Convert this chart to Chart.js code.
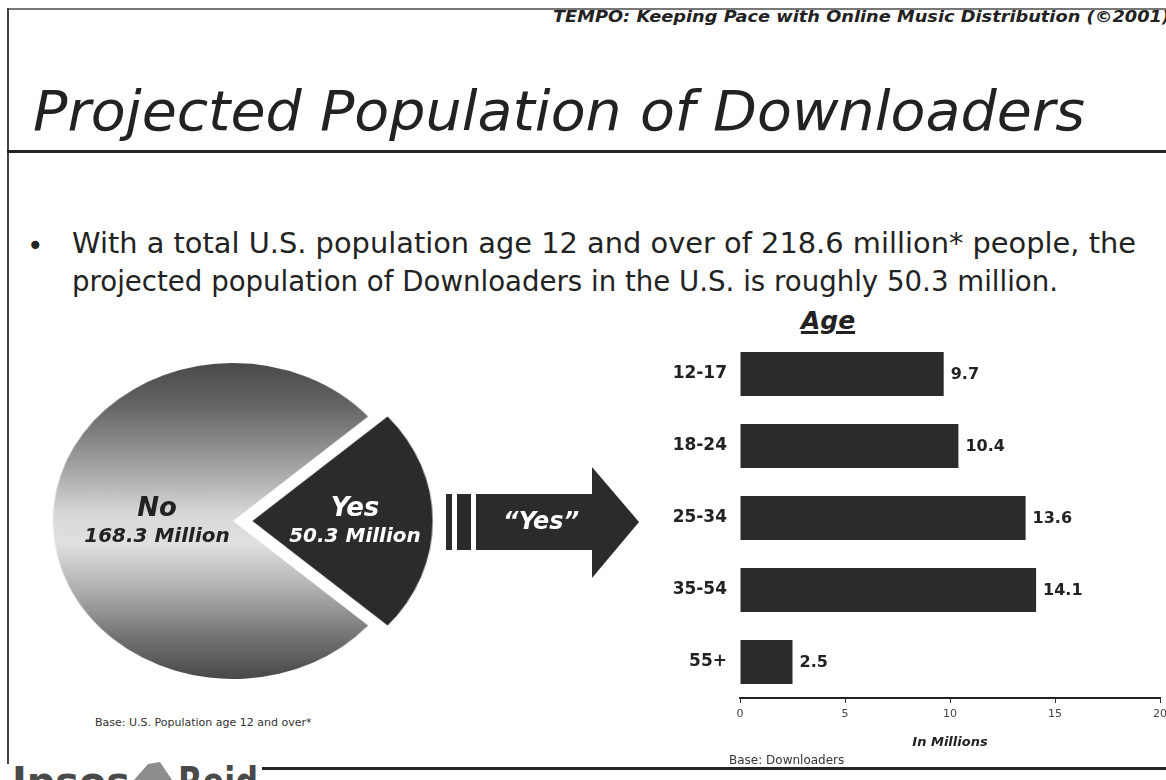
<!DOCTYPE html>
<html>
<head>
<meta charset="utf-8">
<title>Projected Population of Downloaders</title>
<script src="https://cdn.jsdelivr.net/npm/chart.js@4.4.1/dist/chart.umd.min.js"></script>
<style>
  body {
    margin: 0;
    width: 1166px;
    height: 780px;
    overflow: hidden;
    position: relative;
    background: #fff;
    color: #222;
    font-family: "DejaVu Sans", Verdana, sans-serif;
  }
  .abs { position: absolute; white-space: nowrap; line-height: 1; transform-origin: left top; }
  canvas { position: absolute; }
  #hdr { left: 553px; top: 10px; font-size: 15px; font-weight: bold; font-style: italic; }
  #title { left: 33px; top: 84px; font-size: 55px; font-style: italic; }
  #bullet { left: 27px; top: 232px; font-size: 28px; }
  .line { left: 72px; font-size: 28px; }
  #line1 { top: 230px; }
  #line2 { top: 268px; }
  .pieLbl { font-weight: bold; font-style: italic; text-align: center; transform: translateX(-50%); }
  .big { font-size: 26px; }
  .small { font-size: 20px; }
  #ageTitle { left: 828px; top: 308px; font-size: 25px; font-weight: bold; font-style: italic;
              text-decoration: underline; text-decoration-thickness: 3px; transform: translateX(-50%); }
  #arrowTxt { left: 541px; top: 509px; font-size: 24px; font-weight: bold; font-style: italic; color: #fff;
              transform: translateX(-50%); }
  .base { color: #333; }
  #pieBase { left: 95px; top: 717px; font-size: 11px; }
  #barBase { left: 729px; top: 754px; font-size: 12px; }
  .logo { top: 762px; font-size: 40px; font-weight: bold; color: #4a4a4a; }
</style>
</head>
<body>

<svg class="abs" style="left:0;top:0" width="1166" height="780">
  <!-- page frame and rules -->
  <rect x="7" y="8" width="1159" height="2" fill="#777"/>
  <rect x="7" y="8" width="2" height="756" fill="#444"/>
  <rect x="7" y="150" width="1159" height="3" fill="#222"/>
  <rect x="262" y="767" width="904" height="3" fill="#222"/>
  <!-- "Yes" arrow -->
  <g fill="#2b2b2b">
    <rect x="446" y="494" width="6" height="56"/>
    <rect x="457" y="494" width="14" height="56"/>
    <polygon points="476,494 592,494 592,467 639,522 592,578 592,550 476,550"/>
  </g>
  <!-- logo leaf -->
  <polygon points="134,780 148,764 160,762 172,780" fill="#8c8c8c"/>
</svg>

<div id="hdr" class="abs">TEMPO: Keeping Pace with Online Music Distribution (©2001)</div>
<div id="title" class="abs">Projected Population of Downloaders</div>
<div id="bullet" class="abs">•</div>
<div id="line1" class="abs line">With a total U.S. population age 12 and over of 218.6 million* people, the</div>
<div id="line2" class="abs line">projected population of Downloaders in the U.S. is roughly 50.3 million.</div>

<canvas id="pieChart" width="400" height="340" style="left:33px;top:351px;transform:scaleX(1.14);transform-origin:200px 170px"></canvas>
<div id="pieLabels"></div>

<div id="arrowTxt" class="abs">“Yes”</div>

<div id="ageTitle" class="abs">Age</div>
<canvas id="ageChart" width="560" height="480" style="left:640px;top:300px"></canvas>

<div id="pieBase" class="abs base">Base: U.S. Population age 12 and over*</div>
<div id="barBase" class="abs base">Base: Downloaders</div>

<div id="logoA" class="abs logo" style="left:12px">Ipsos</div>
<div id="logoB" class="abs logo" style="left:178px">Reid</div>

<script>
// U.S. population 12+, in millions
const pieLabels = ["Yes", "No"];
const pieValues = [50.3, 168.3];

// downloaders by age group, in millions
const ageGroups = ["12-17", "18-24", "25-34", "35-54", "55+"];
const ageValues = [9.7, 10.4, 13.6, 14.1, 2.5];
const xTicks = [0, 5, 10, 15, 20];

const PIE_R = 158;
const PULL_OUT = 17;   // px the "Yes" slice is pulled away from the centre
const DARK = "#2b2b2b";

// stretch a text block to a given width
function fitWidth(id, w) {
  const el = document.getElementById(id);
  const cur = el.getBoundingClientRect().width;
  el.style.transform = "scaleX(" + (w / cur) + ")";
}
fitWidth("hdr", 617);
fitWidth("title", 1052);
fitWidth("line1", 1064);
fitWidth("line2", 986);
fitWidth("logoA", 118);
fitWidth("logoB", 80);

// "No" slice gets a banded grey shading, "Yes" is solid
function sliceColor(ctx) {
  if (ctx.dataIndex === 0) return DARK;
  const chart = ctx.chart;
  const area = chart.chartArea;
  if (!area) return "#aaa";
  const cy = (area.top + area.bottom) / 2;
  const g = chart.ctx.createLinearGradient(0, cy - PIE_R, 0, cy + PIE_R);
  g.addColorStop(0, "#4a4a4a");
  g.addColorStop(0.14, "#666");
  g.addColorStop(0.32, "#a0a0a0");
  g.addColorStop(0.48, "#d8d8d8");
  g.addColorStop(0.57, "#e0e0e0");
  g.addColorStop(0.72, "#aeaeae");
  g.addColorStop(0.87, "#727272");
  g.addColorStop(1, "#484848");
  return g;
}

const total = pieValues.reduce((a, b) => a + b, 0);
const yesSweep = pieValues[0] / total * 360;

new Chart(document.getElementById("pieChart"), {
  type: "pie",
  data: {
    labels: pieLabels,
    datasets: [{
      data: pieValues,
      backgroundColor: sliceColor,
      borderWidth: 0,
      // arc elements move by offset / 4
      offset: [PULL_OUT * 4, 0]
    }]
  },
  options: {
    responsive: false,
    animation: false,
    events: [],
    radius: PIE_R,
    rotation: 90 - yesSweep / 2,   // centre the "Yes" slice on the right
    layout: { padding: 0 },
    plugins: { legend: { display: false }, tooltip: { enabled: false } }
  }
});

// slice captions
const pieSpots = [
  { x: 355, y: 494, color: "#fff" },
  { x: 157, y: 494, color: "#222" }
];
const holder = document.getElementById("pieLabels");
pieLabels.forEach((name, i) => {
  const s = pieSpots[i];
  holder.insertAdjacentHTML("beforeend",
    `<div class="abs pieLbl big" style="left:${s.x}px;top:${s.y}px;color:${s.color}">${name}</div>` +
    `<div class="abs pieLbl small" style="left:${s.x}px;top:${s.y + 31}px;color:${s.color}">${pieValues[i]} Million</div>`);
});

// value printed just past the end of each bar
const valueLabels = {
  id: "valueLabels",
  afterDatasetsDraw(chart) {
    const ctx = chart.ctx;
    const meta = chart.getDatasetMeta(0);
    ctx.save();
    ctx.font = 'bold 16px "DejaVu Sans"';
    ctx.fillStyle = "#222";
    ctx.textBaseline = "middle";
    meta.data.forEach((bar, i) => {
      ctx.fillText(String(chart.data.datasets[0].data[i]), bar.x + 7, bar.y + 1);
    });
    ctx.restore();
  }
};

new Chart(document.getElementById("ageChart"), {
  type: "bar",
  data: {
    labels: ageGroups,
    datasets: [{
      data: ageValues,
      backgroundColor: DARK,
      borderWidth: 0,
      barPercentage: 0.61,
      categoryPercentage: 1
    }]
  },
  options: {
    indexAxis: "y",
    responsive: false,
    animation: false,
    events: [],
    layout: { padding: { top: 38, right: 40, left: 0, bottom: 0 } },
    plugins: { legend: { display: false }, tooltip: { enabled: false } },
    scales: {
      x: {
        min: xTicks[0],
        max: xTicks[xTicks.length - 1],
        ticks: { stepSize: xTicks[1] - xTicks[0], color: "#444", padding: 5,
                 font: { family: "DejaVu Sans", size: 11 } },
        grid: { drawOnChartArea: false, drawTicks: true, tickLength: 5, color: "#333" },
        border: { color: "#222", width: 2 },
        title: {
          display: true,
          text: "In Millions",
          color: "#222",
          font: { family: "DejaVu Sans", size: 13, style: "italic", weight: "bold" },
          padding: { top: 0, bottom: 30 }
        },
        afterFit(scale) { scale.height = 82; }
      },
      y: {
        grid: { display: false, drawTicks: false },
        border: { display: false },
        ticks: { color: "#222", padding: 13, font: { family: "DejaVu Sans", size: 17, weight: "bold" } },
        afterFit(scale) { scale.width = 100; }
      }
    }
  },
  plugins: [valueLabels]
});
</script>
</body>
</html>
